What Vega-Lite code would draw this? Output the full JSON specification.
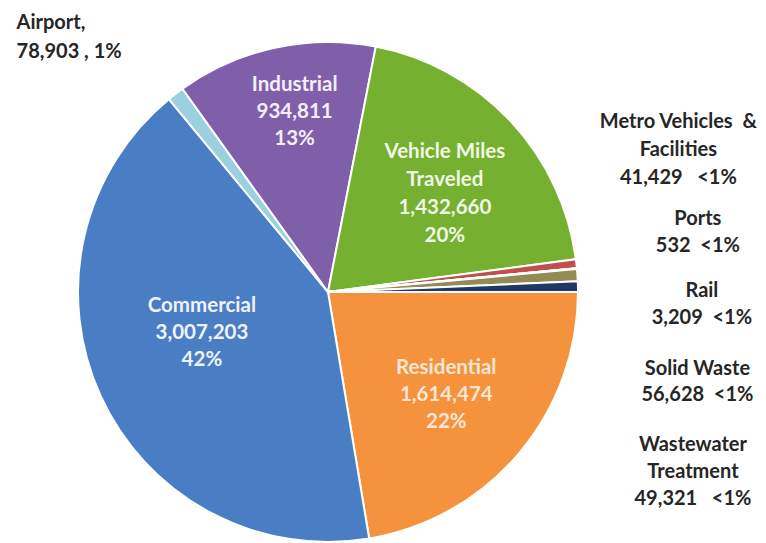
{
  "$schema": "https://vega.github.io/schema/vega-lite/v6.json",
  "width": 500,
  "height": 500,
  "autosize": {"type": "none"},
  "padding": {"left": 78, "top": 42, "right": 188, "bottom": 1},
  "background": "white",
  "view": {"stroke": null},
  "data": {
    "values": [
      {"k": 1, "cat": "Residential", "value": 1614474, "label": "Residential\n1,614,474\n22%"},
      {"k": 2, "cat": "Commercial", "value": 3007203, "label": "Commercial\n3,007,203\n42%"},
      {"k": 3, "cat": "Airport", "value": 78903, "label": "Airport,\n\u00a0\u00a078,903 , 1%"},
      {"k": 4, "cat": "Industrial", "value": 934811, "label": "Industrial\n934,811\n13%"},
      {"k": 5, "cat": "Vehicle Miles Traveled", "value": 1432660, "label": "Vehicle Miles\nTraveled\n1,432,660\n20%"},
      {"k": 6, "cat": "Metro Vehicles & Facilities", "value": 41429, "label": "Metro Vehicles\u00a0\u00a0&\nFacilities\n41,429\u00a0\u00a0\u00a0<1%"},
      {"k": 7, "cat": "Ports", "value": 532, "label": "Ports\n532\u00a0\u00a0<1%"},
      {"k": 8, "cat": "Rail", "value": 3209, "label": "Rail\n3,209\u00a0\u00a0<1%"},
      {"k": 9, "cat": "Solid Waste", "value": 56628, "label": "Solid Waste\n56,628\u00a0\u00a0<1%"},
      {"k": 10, "cat": "Wastewater Treatment", "value": 49321, "label": "Wastewater\nTreatment\n49,321\u00a0\u00a0\u00a0<1%"}
    ]
  },
  "encoding": {
    "theta": {"field": "value", "type": "quantitative", "stack": true, "scale": {"range": [1.5708, 7.8540]}},
    "order": {"field": "k", "type": "quantitative"}
  },
  "layer": [
    {
      "mark": {"type": "arc", "stroke": "white", "strokeWidth": 2},
      "encoding": {
        "color": {
          "field": "cat",
          "type": "nominal",
          "legend": null,
          "scale": {
            "domain": ["Residential", "Commercial", "Airport", "Industrial", "Vehicle Miles Traveled", "Metro Vehicles & Facilities", "Ports", "Rail", "Solid Waste", "Wastewater Treatment"],
            "range": ["#F4923E", "#4A7EC4", "#9AD0E0", "#7F5FAA", "#76B030", "#C0504D", "#E6B9B8", "#D9D9D9", "#948A54", "#1F3864"]
          }
        }
      }
    },
    {
      "mark": {"type": "text", "radius": 155, "dy": -24, "lineBreak": "\n", "lineHeight": 27, "font": "Lato", "fontWeight": "bold", "fontSize": 20.5, "fill": "#FDE6D2", "align": "center", "baseline": "middle"},
      "encoding": {"text": {"condition": {"test": "datum.cat === 'Residential'", "field": "label"}, "value": ""}}
    },
    {
      "mark": {"type": "text", "radius": 132, "dx": -6, "dy": -41, "lineBreak": "\n", "lineHeight": 27, "font": "Lato", "fontWeight": "bold", "fontSize": 20.5, "fill": "#EEF3FA", "align": "center", "baseline": "middle"},
      "encoding": {"text": {"condition": {"test": "datum.cat === 'Commercial'", "field": "label"}, "value": ""}}
    },
    {
      "mark": {"type": "text", "radius": 185, "dx": 6, "dy": -26, "lineBreak": "\n", "lineHeight": 27, "font": "Lato", "fontWeight": "bold", "fontSize": 20.5, "fill": "#F3EEF7", "align": "center", "baseline": "middle"},
      "encoding": {"text": {"condition": {"test": "datum.cat === 'Industrial'", "field": "label"}, "value": ""}}
    },
    {
      "mark": {"type": "text", "radius": 155, "dx": 4, "dy": -34, "lineBreak": "\n", "lineHeight": 28, "font": "Lato", "fontWeight": "bold", "fontSize": 20.5, "fill": "#F1F8E6", "align": "center", "baseline": "middle"},
      "encoding": {"text": {"condition": {"test": "datum.cat === 'Vehicle Miles Traveled'", "field": "label"}, "value": ""}}
    },
    {
      "mark": {"type": "text", "radius": 255, "dx": -156, "dy": -67, "lineBreak": "\n", "lineHeight": 29, "font": "Lato", "fontWeight": "bold", "fontSize": 20, "fill": "#262626", "align": "left", "baseline": "middle"},
      "encoding": {"text": {"condition": {"test": "datum.cat === 'Airport'", "field": "label"}, "value": ""}}
    },
    {
      "mark": {"type": "text", "radius": 255, "dx": 97, "dy": -141, "lineBreak": "\n", "lineHeight": 28, "font": "Lato", "fontWeight": "bold", "fontSize": 20, "fill": "#262626", "align": "center", "baseline": "middle"},
      "encoding": {"text": {"condition": {"test": "datum.cat === 'Metro Vehicles & Facilities'", "field": "label"}, "value": ""}}
    },
    {
      "mark": {"type": "text", "radius": 255, "dx": 116, "dy": -49, "lineBreak": "\n", "lineHeight": 27, "font": "Lato", "fontWeight": "bold", "fontSize": 20, "fill": "#262626", "align": "center", "baseline": "middle"},
      "encoding": {"text": {"condition": {"test": "datum.cat === 'Ports'", "field": "label"}, "value": ""}}
    },
    {
      "mark": {"type": "text", "radius": 255, "dx": 120, "dy": 23, "lineBreak": "\n", "lineHeight": 27, "font": "Lato", "fontWeight": "bold", "fontSize": 20, "fill": "#262626", "align": "center", "baseline": "middle"},
      "encoding": {"text": {"condition": {"test": "datum.cat === 'Rail'", "field": "label"}, "value": ""}}
    },
    {
      "mark": {"type": "text", "radius": 255, "dx": 115, "dy": 94, "lineBreak": "\n", "lineHeight": 26, "font": "Lato", "fontWeight": "bold", "fontSize": 20, "fill": "#262626", "align": "center", "baseline": "middle"},
      "encoding": {"text": {"condition": {"test": "datum.cat === 'Solid Waste'", "field": "label"}, "value": ""}}
    },
    {
      "mark": {"type": "text", "radius": 255, "dx": 110, "dy": 158, "lineBreak": "\n", "lineHeight": 27, "font": "Lato", "fontWeight": "bold", "fontSize": 20, "fill": "#262626", "align": "center", "baseline": "middle"},
      "encoding": {"text": {"condition": {"test": "datum.cat === 'Wastewater Treatment'", "field": "label"}, "value": ""}}
    }
  ]
}
